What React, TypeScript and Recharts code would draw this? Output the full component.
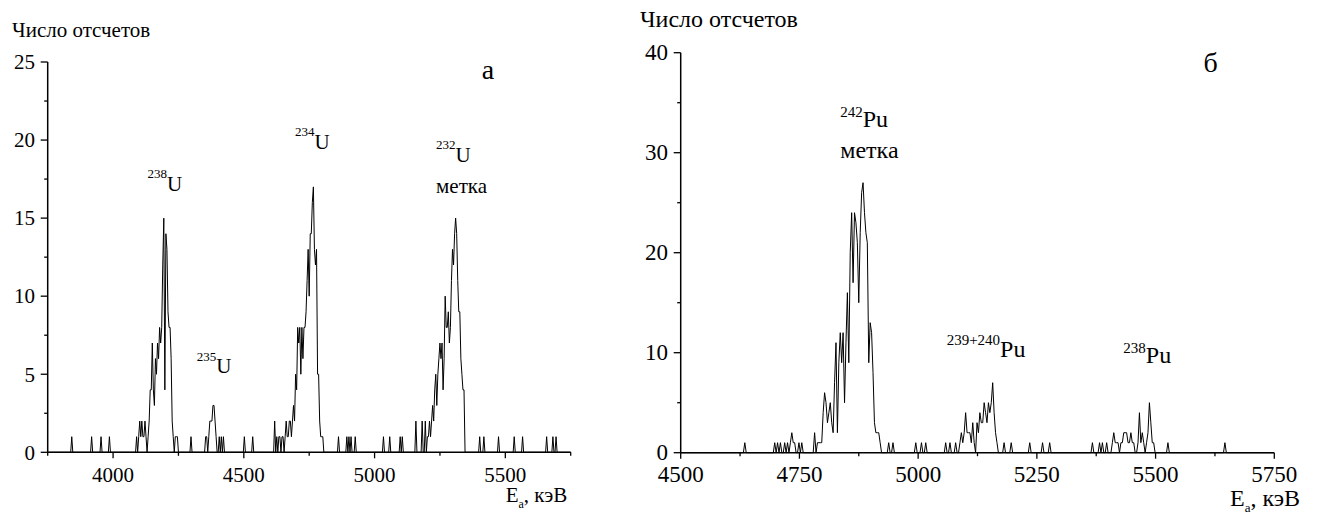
import { LineChart, Line, XAxis, YAxis, ReferenceDot } from 'recharts'

const FONT = "'Liberation Serif'"

// panel а — uranium spectrum, 4 keV channels
const uStart = 3750
const uEnd = 5750
const uChannel = 4
const u238From = 4090
const u238Counts = [1, 0, 1, 2, 1, 2, 1, 1, 2, 1, 0, 1, 2, 4, 4, 7, 4, 3, 6, 5, 7, 6, 8, 7, 8, 12, 15, 4, 14, 13, 9, 8, 8, 6, 2, 1, 0, 1, 1, 1]
const u235From = 4354
const u235Counts = [1, 1, 0, 1, 2, 2, 2, 3, 3, 2, 1, 0, 0, 1, 0, 1, 0, 1]
const u234From = 4618
const u234Counts = [2, 0, 1, 0, 1, 1, 0, 1, 1, 0, 1, 2, 1, 1, 2, 2, 1, 2, 3, 2, 5, 4, 8, 7, 8, 5, 8, 6, 8, 8, 9, 11, 13, 10, 14, 14, 16, 17, 13, 12, 13, 5, 5, 2, 1, 1, 1]
const u232From = 5194
const u232Counts = [2, 0, 1, 1, 2, 1, 2, 3, 2, 4, 5, 3, 5, 6, 7, 6, 7, 4, 6, 10, 8, 8, 9, 7, 8, 11, 13, 12, 14, 15, 14, 11, 9, 9, 6, 5, 4, 4]
const uLoneE = [3842, 3918, 3954, 3986, 4298, 4502, 4534, 4862, 4894, 4902, 4910, 4926, 5034, 5058, 5098, 5106, 5158, 5182, 5402, 5418, 5474, 5534, 5566, 5658, 5682, 5694]
const uLoneC = [1, 1, 1, 1, 1, 1, 1, 1, 1, 1, 1, 1, 1, 1, 1, 1, 2, 2, 1, 1, 1, 1, 1, 1, 1, 1]
const uXTicks = [3750, 4000, 4250, 4500, 4750, 5000, 5250, 5500, 5750]
const uYTicks = [0, 2.5, 5, 7.5, 10, 12.5, 15, 17.5, 20, 22.5, 25]

// panel б — plutonium spectrum, 3 keV channels
const puStart = 4500
const puEnd = 5750
const puChannel = 3
const puLowFrom = 4698
const puLowCounts = [1, 0, 1, 0, 1, 0, 0, 1, 0, 1, 0, 1, 2, 1, 1, 0, 0, 1, 0, 1]
const pu242From = 4782
const pu242Counts = [2, 0, 1, 1, 1, 1, 4, 6, 5, 3, 4, 5, 3, 2, 7, 11, 2, 9, 12, 9, 12, 5, 11, 16, 9, 20, 24, 17, 24, 23, 21, 15, 22, 26, 27, 24, 22, 21, 9, 13, 12, 8, 3, 2, 2, 2, 1]
const pu239From = 5058
const pu239Counts = [1, 0, 0, 1, 0, 0, 0, 1, 0, 0, 1, 2, 1, 2, 4, 2, 2, 2, 1, 3, 1, 0, 3, 2, 4, 3, 3, 5, 4, 3, 5, 4, 5, 7, 4, 2, 1]
const pu238From = 5367
const pu238Counts = [1, 0, 0, 0, 0, 1, 0, 1, 0, 0, 1, 0, 0, 0, 1, 2, 1, 1, 1, 0, 1, 1, 2, 2, 2, 1, 1, 2, 1, 1, 0, 0, 1, 4, 1, 2, 1, 0, 1, 2, 5, 3, 1, 1]
const puLoneE = [4635, 4938, 4947, 4995, 5007, 5016, 5181, 5196, 5235, 5262, 5277, 5526, 5646]
const puLoneC = [1, 1, 1, 1, 1, 1, 1, 1, 1, 1, 1, 1, 1]
const puXTicks = [4500, 4625, 4750, 4875, 5000, 5125, 5250, 5375, 5500, 5625, 5750]
const puYTicks = [0, 5, 10, 15, 20, 25, 30, 35, 40]

function buildSpectrum(start: number, end: number, ch: number, peaks: [number, number[]][], loneE: number[], loneC: number[]) {
  const n = Math.floor((end - start) / ch)
  const counts: number[] = new Array(n + 1).fill(0)
  const put = (e: number, c: number) => {
    const k = Math.round((e - start) / ch)
    if (k >= 0 && k <= n) counts[k] = Math.max(counts[k], c)
  }
  peaks.forEach(([from, arr]) => arr.forEach((c, i) => put(from + i * ch, c)))
  loneE.forEach((e, i) => put(e, loneC[i]))
  return counts.map((c, k) => ({ e: start + k * ch, c }))
}

const uData = buildSpectrum(uStart, uEnd, uChannel,
  [[u238From, u238Counts], [u235From, u235Counts], [u234From, u234Counts], [u232From, u232Counts]], uLoneE, uLoneC)
const puData = buildSpectrum(puStart, puEnd, puChannel,
  [[puLowFrom, puLowCounts], [pu242From, pu242Counts], [pu239From, pu239Counts], [pu238From, pu238Counts]], puLoneE, puLoneC)

const txt = (size: number) => ({ fontFamily: FONT, fontSize: size })

function XTick({ x, y, payload, major, size }: any) {
  const isMajor = payload.value % major === 0
  return (
    <g>
      <line x1={x} x2={x} y1={y} y2={y + (isMajor ? 6 : 3.5)} stroke="#000" strokeWidth={1.3} />
      {isMajor && (
        <text x={x} y={y + 29.5} textAnchor="middle" style={txt(size)} fill="#000">
          {payload.value}
        </text>
      )}
    </g>
  )
}

function YTick({ x, y, payload, major, size }: any) {
  const isMajor = payload.value % major === 0
  return (
    <g>
      <line x1={x - (isMajor ? 7 : 3.5)} x2={x} y1={y} y2={y} stroke="#000" strokeWidth={1.3} />
      {isMajor && (
        <text x={x - 12.7} y={y + 7.3} textAnchor="end" style={txt(size)} fill="#000">
          {payload.value}
        </text>
      )}
    </g>
  )
}

// isotope label: small mass number raised before the element symbol
const iso = (mass: string, sym: string, symSize: number, supSize: number, raise: number) => (props: any) => {
  const vb = props.viewBox || {}
  return (
    <text x={vb.x} y={vb.y} style={{ fontFamily: FONT }} fill="#000">
      <tspan style={{ fontSize: supSize }} dy={-raise}>{mass}</tspan>
      <tspan style={{ fontSize: symSize }} dy={raise}>{sym}</tspan>
    </text>
  )
}

const word = (s: string, size: number, anchor: 'start' | 'middle' = 'start') => (props: any) => {
  const vb = props.viewBox || {}
  return (
    <text x={vb.x} y={vb.y} style={txt(size)} fill="#000" textAnchor={anchor}>
      {s}
    </text>
  )
}

const axisLine = { stroke: '#000', strokeWidth: 1.5 }

export default function App() {
  return (
    <div style={{ position: 'absolute', left: 0, top: 0, width: 1317, height: 516, background: '#fff', fontFamily: FONT }}>
      <div style={{ position: 'absolute', left: 0, top: 0 }}>
        <LineChart width={600} height={516} data={uData} margin={{ top: 62, right: 29.3, bottom: 33.7, left: 7.7 }}>
          <XAxis dataKey="e" type="number" domain={[uStart, uEnd]} ticks={uXTicks} interval={0}
            axisLine={axisLine} tickLine={false} tickSize={0} tickMargin={0} height={30}
            tick={(p: any) => <XTick {...p} major={500} size={21} />} />
          <YAxis type="number" domain={[0, 25]} ticks={uYTicks} interval={0} width={40}
            axisLine={axisLine} tickLine={false} tickSize={0} tickMargin={0}
            tick={(p: any) => <YTick {...p} major={5} size={21} />} />
          <Line dataKey="c" type="linear" stroke="#000" strokeWidth={1} dot={false} isAnimationActive={false} />
          <ReferenceDot x={4132} y={16.76} r={0} fill="none" stroke="none" label={iso('238', 'U', 21, 13, 13)} />
          <ReferenceDot x={4320} y={5.06} r={0} fill="none" stroke="none" label={iso('235', 'U', 21, 13, 12)} />
          <ReferenceDot x={4696} y={19.41} r={0} fill="none" stroke="none" label={iso('234', 'U', 21, 13, 13)} />
          <ReferenceDot x={5235} y={18.62} r={0} fill="none" stroke="none" label={iso('232', 'U', 21, 13, 13)} />
          <ReferenceDot x={5235} y={16.63} r={0} fill="none" stroke="none" label={word('метка', 21)} />
          <ReferenceDot x={5434} y={23.9} r={0} fill="none" stroke="none" label={word('а', 28, 'middle')} />
        </LineChart>
      </div>
      <div style={{ position: 'absolute', left: 600, top: 0 }}>
        <LineChart width={717} height={516} data={puData} margin={{ top: 52.7, right: 42.7, bottom: 33.3, left: 40.7 }}>
          <XAxis dataKey="e" type="number" domain={[puStart, puEnd]} ticks={puXTicks} interval={0}
            axisLine={axisLine} tickLine={false} tickSize={0} tickMargin={0} height={30}
            tick={(p: any) => <XTick {...p} major={250} size={23} />} />
          <YAxis type="number" domain={[0, 40]} ticks={puYTicks} interval={0} width={40}
            axisLine={axisLine} tickLine={false} tickSize={0} tickMargin={0}
            tick={(p: any) => <YTick {...p} major={10} size={23} />} />
          <Line dataKey="c" type="linear" stroke="#000" strokeWidth={1} dot={false} isAnimationActive={false} />
          <ReferenceDot x={4836} y={32.54} r={0} fill="none" stroke="none" label={iso('242', 'Pu', 24, 15, 10.5)} />
          <ReferenceDot x={4836} y={29.44} r={0} fill="none" stroke="none" label={word('метка', 24)} />
          <ReferenceDot x={5060} y={9.6} r={0} fill="none" stroke="none" label={iso('239+240', 'Pu', 24, 15, 11.5)} />
          <ReferenceDot x={5432} y={9.0} r={0} fill="none" stroke="none" label={iso('238', 'Pu', 24, 15, 10)} />
          <ReferenceDot x={5616} y={38.07} r={0} fill="none" stroke="none" label={word('б', 28, 'middle')} />
        </LineChart>
      </div>
      <svg width={1317} height={516} style={{ position: 'absolute', left: 0, top: 0, pointerEvents: 'none' }}>
        <text x={12} y={36.5} style={txt(21)} fill="#000">Число отсчетов</text>
        <text x={640} y={26.5} style={txt(24)} fill="#000">Число отсчетов</text>
        <text x={505.7} y={501.7} style={txt(21)} fill="#000">
          E<tspan style={{ fontSize: 12 }} dy={6}>а</tspan><tspan dy={-6}>, кэВ</tspan>
        </text>
        <text x={1230} y={506} style={txt(24)} fill="#000">
          E<tspan style={{ fontSize: 13 }} dy={6}>а</tspan><tspan dy={-6}>, кэВ</tspan>
        </text>
      </svg>
    </div>
  )
}
